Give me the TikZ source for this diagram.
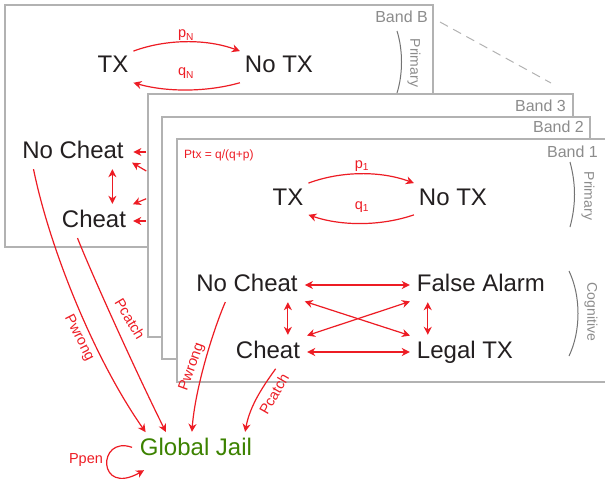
\documentclass[tikz,border=0pt]{standalone}
\usepackage{fontspec}
\setmainfont{Liberation Sans}
\usepackage{tikz}
\usetikzlibrary{arrows.meta,calc}
\definecolor{rojo}{RGB}{237, 28, 36}
\definecolor{verdeJail}{RGB}{60, 130, 0}
\definecolor{negroTexto}{RGB}{35, 31, 32}
\definecolor{grisBorde}{RGB}{178, 178, 178}
\definecolor{grisTexto}{RGB}{140, 140, 140}
\definecolor{grisArco}{RGB}{115, 115, 115}
\tikzstyle{flecha}=[rojo, line width=1.2pt,
                    >={Stealth[length=8pt,width=8pt,inset=2.5pt]},
                    shorten <=2pt, shorten >=2pt]
\tikzstyle{corta}=[shorten <=4pt, shorten >=4pt]
\tikzstyle{estado}=[text=negroTexto, font=\fontsize{24}{28}\selectfont,
                    inner sep=3pt, text height=18pt, text depth=6pt,
                    anchor=base]
\tikzstyle{banda}=[draw=grisBorde, fill=white, line width=1.3pt]
\tikzstyle{bandaLbl}=[text=grisTexto, font=\fontsize{16}{18}\selectfont,
                    inner sep=0pt, anchor=base east]
\tikzstyle{capa}=[text=grisTexto, font=\fontsize{14}{16}\selectfont,
                    rotate=-90, inner sep=0pt]
\tikzstyle{prob}=[text=rojo, font=\fontsize{14.5}{16}\selectfont,
                    inner sep=0pt]
\tikzstyle{arco}=[grisArco, line width=1pt]

\begin{document}
\begin{tikzpicture}[x=1pt,y=-1pt]
    \useasboundingbox (0,0) rectangle (605,487);

    % band B
    \draw[banda] (5,5) rectangle (433,247);
    \draw[grisBorde, line width=1pt, dash pattern=on 9pt off 6pt] (440,22) -- (551,83);
    \node (bandB) [bandaLbl] at (428,23) {Band B};
    \draw[arco] (397,31) .. controls (403,50) and (403,74) .. (397,93);
    \node (primB) [capa] at (414,63) {Primary};

    \node (txB) [estado] at (113,73) {TX};
    \node (notxB) [estado] at (279,73) {No TX};
    \node (nocheatB) [estado] at (73,158) {No Cheat};
    \node (cheatB) [estado] at (94,227) {Cheat};
    \node (lpN) [prob, anchor=base] at (186,38) {p\textsubscript{N}};
    \node (lqN) [prob, anchor=base] at (186,76) {q\textsubscript{N}};

    \draw[flecha,->] (txB.north east) .. controls +(35,-13) and +(-35,-13) .. (notxB.north west);
    \draw[flecha,->] (notxB.south west) .. controls +(-35,10) and +(35,10) .. (txB.south east);
    \draw[flecha,<->] ([xshift=-14.5pt]nocheatB.south east) -- ([xshift=-14.5pt]nocheatB.south east |- cheatB.north);

    % arrows from the bands behind
    \coordinate (inB1) at (148,152);
    \coordinate (inB2) at (148,172);
    \coordinate (inB3) at (148,198);
    \coordinate (inB4) at (148,221);
    \draw[flecha,->,shorten >=6.5pt] (inB1) -- (nocheatB.east);
    \draw[flecha,->,shorten >=6pt] (inB2) -- ($(nocheatB.east)!.5!(nocheatB.south east)$);
    \draw[flecha,->,shorten >=4pt] (inB3) -- (cheatB.north east);
    \draw[flecha,->,shorten >=4pt] (inB4) -- (cheatB.east);

    % bands 3 and 2
    \draw[banda] (148,94) rectangle (573,337);
    \node (band3) [bandaLbl] at (566,111) {Band 3};
    \draw[banda] (162,117) rectangle (590,359);
    \node (band2) [bandaLbl] at (584,132) {Band 2};

    % band 1
    \fill[white] (177,139) rectangle (605,382);
    \draw[grisBorde, line width=1.3pt] (607,139) -- (177,139) -- (177,382) -- (607,382);
    \node (band1) [bandaLbl] at (598,157) {Band 1};
    \node (ptx) [text=rojo, font=\fontsize{12}{14}\selectfont, inner sep=0pt, anchor=base west] at (184,158) {Ptx = q/(q+p)};
    \draw[arco] (570,162) .. controls (576,184) and (576,205) .. (570,227);
    \node (prim1) [capa] at (588,196) {Primary};
    \draw[arco] (569,271) .. controls (581,296) and (581,331) .. (569,356);
    \node (cogn1) [capa] at (591,312) {Cognitive};

    \node (tx1) [estado] at (288,205) {TX};
    \node (notx1) [estado] at (453,205) {No TX};
    \node (lp1) [prob, anchor=base] at (362,168) {p\textsubscript{1}};
    \node (lq1) [prob, anchor=base] at (362,209) {q\textsubscript{1}};
    \draw[flecha,->] (tx1.north east) .. controls +(35,-13) and +(-35,-13) .. (notx1.north west);
    \draw[flecha,->] (notx1.south west) .. controls +(-35,12) and +(35,12) .. (tx1.south east);

    \node (nocheat1) [estado] at (247,291) {No Cheat};
    \node (cheat1) [estado] at (268,358) {Cheat};
    \node (alarm1) [estado] at (481,291) {False Alarm};
    \node (legal1) [estado] at (465,358) {Legal TX};

    \draw[flecha,corta,<->] (nocheat1.east) -- (alarm1.west);
    \draw[flecha,corta,<->] (cheat1.east) -- (cheat1.east -| legal1.west);
    \draw[flecha,<->] ([xshift=-13pt]nocheat1.south east) -- ([xshift=-13pt]nocheat1.south east |- cheat1.north);
    \draw[flecha,<->] ([xshift=14pt]alarm1.south west) -- ([xshift=14pt]alarm1.south west |- legal1.north);
    \draw[flecha,corta,<->] (nocheat1.south east) -- (legal1.north west);
    \draw[flecha,corta,<->] (cheat1.north east) -- (alarm1.south west);

    % jail
    \node (jail) [estado, text=verdeJail] at (196,455) {Global Jail};
    \draw[flecha,->] ([xshift=14pt]nocheatB.south west) .. controls (50,250) and (95,360) .. ([xshift=10pt]jail.north west);
    \draw[flecha,->] ([xshift=18pt]cheatB.south west) .. controls (90,270) and (135,370) .. ([xshift=30pt]jail.north west);
    \draw[flecha,->] ([xshift=33pt]nocheat1.south west) .. controls (212,333) and (195,390) .. ([xshift=55pt]jail.north west);
    \draw[flecha,->] ([xshift=44pt]cheat1.south west) .. controls (264,385) and (250,405) .. ([xshift=108pt]jail.north west);
    \draw[flecha,->,shorten <=5pt] (jail.west) .. controls (97,435) and (97,497) .. ([xshift=9pt,yshift=-5pt]jail.south west);

    \node (wrongB) [prob, rotate=-63] at (79,338) {Pwrong};
    \node (catchB) [prob, rotate=-59] at (130,319) {Pcatch};
    \node (wrong1) [prob, rotate=70] at (192,367) {Pwrong};
    \node (catch1) [prob, rotate=60] at (274,394) {Pcatch};
    \node (ppen) [prob] at (86,460) {Ppen};

\end{tikzpicture}
\end{document}
